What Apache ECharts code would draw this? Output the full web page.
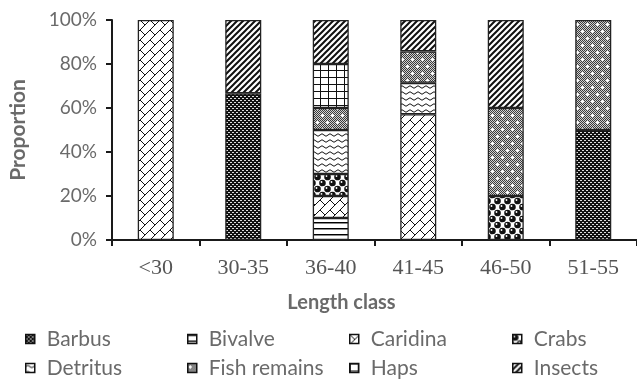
<!DOCTYPE html>
<html><head><meta charset="utf-8">
<script src="https://cdn.jsdelivr.net/npm/echarts@6/dist/echarts.min.js"></script>
<style>html,body{margin:0;padding:0;background:#fff}#c{width:637px;height:380px}</style>
</head><body><div id="c"></div>
<script>
// ---- data (percent of diet per length class) ----
const categories = ['<30', '30-35', '36-40', '41-45', '46-50', '51-55'];
const seriesNames = ['Barbus', 'Bivalve', 'Caridina', 'Crabs', 'Detritus', 'Fish remains', 'Haps', 'Insects'];
const barbus      = [0, 66.67, 0, 0, 0, 50];
const bivalve     = [0, 0, 10, 0, 0, 0];
const caridina    = [100, 0, 10, 57.14, 0, 0];
const crabs       = [0, 0, 10, 0, 20, 0];
const detritus    = [0, 0, 20, 14.29, 0, 0];
const fishRemains = [0, 0, 10, 14.29, 40, 50];
const haps        = [0, 0, 20, 0, 0, 0];
const insects     = [0, 33.33, 20, 14.29, 40, 0];
const yTicks = [0, 20, 40, 60, 80, 100];

const values = [barbus, bivalve, caridina, crabs, detritus, fishRemains, haps, insects];

// ---- fill patterns ----
function tile(w, h, draw) {
  const c = document.createElement('canvas');
  c.width = w; c.height = h;
  const g = c.getContext('2d');
  g.fillStyle = '#fff'; g.fillRect(0, 0, w, h);
  draw(g, w, h);
  return { image: c, repeat: 'repeat' };
}
const patterns = {
  'Barbus': tile(4, 4, g => {
    g.fillStyle = '#111'; g.fillRect(0, 0, 4, 4);
    g.fillStyle = '#ddd'; g.fillRect(0, 0, 2, 1); g.fillRect(2, 2, 2, 1);
  }),
  'Bivalve': tile(8, 6, g => {
    g.fillStyle = '#000'; g.fillRect(0, 0, 8, 1);
    g.fillStyle = '#888'; g.fillRect(0, 1, 8, 1);
  }),
  'Caridina': tile(10, 10, g => {
    g.strokeStyle = '#111'; g.lineWidth = 1;
    g.beginPath();
    for (let k = -1; k <= 1; k++) { g.moveTo(10 * k, 10); g.lineTo(10 * k + 10, 0); }
    g.moveTo(0, 0); g.lineTo(5, 5);
    g.stroke();
  }),
  'Crabs': tile(10, 12, g => {
    g.fillStyle = '#111';
    const pts = [[2.5, 3], [7.5, 9], [-2.5, 9], [12.5, 3], [7.5, -3], [2.5, 15]];
    pts.forEach(p => { g.beginPath(); g.arc(p[0], p[1], 3.3, 0, Math.PI * 2); g.fill(); });
    g.fillStyle = '#fff';
    pts.forEach(p => { g.beginPath(); g.arc(p[0] - 1, p[1] - 1, 0.9, 0, Math.PI * 2); g.fill(); });
  }),
  'Detritus': tile(8, 6, g => {
    g.strokeStyle = '#111'; g.lineWidth = 1;
    g.beginPath(); g.moveTo(0, 3);
    g.quadraticCurveTo(2, 0.5, 4, 3); g.quadraticCurveTo(6, 5.5, 8, 3);
    g.stroke();
  }),
  'Fish remains': tile(10, 14, g => {
    g.fillStyle = '#d0d0d0'; g.fillRect(0, 0, 10, 14);
    g.fillStyle = '#3a3a3a';
    for (let y = 0; y < 14; y++) for (let x = 0; x < 10; x++) if ((x + y) % 2 === 0) g.fillRect(x, y, 1, 1);
    g.fillStyle = '#fff';
    [[2, 3], [7, 10]].forEach(p => { g.fillRect(p[0] - 1, p[1], 3, 1); g.fillRect(p[0], p[1] - 1, 1, 3); });
  }),
  'Haps': tile(8, 7, g => {
    g.fillStyle = '#111'; g.fillRect(0, 0, 8, 1); g.fillRect(0, 0, 1, 7);
  }),
  'Insects': tile(6, 6, g => {
    g.strokeStyle = '#111'; g.lineWidth = 2;
    g.beginPath();
    for (let k = -1; k <= 1; k++) { g.moveTo(6 * k - 1, 7); g.lineTo(6 * k + 7, -1); }
    g.stroke();
  })
};

const grey = '#6a6a6a';
const colX = [25, 187, 349, 512];
const rowTop = [328, 357];

const chart = echarts.init(document.getElementById('c'), null, { renderer: 'canvas' });
chart.setOption({
  animation: false,
  backgroundColor: '#fff',
  grid: { left: 103, right: -5, top: 20, bottom: 140, containLabel: false },
  legend: seriesNames.map((n, i) => ({
    data: [n], left: colX[i % 4], top: rowTop[Math.floor(i / 4)],
    icon: 'rect', itemWidth: 9, itemHeight: 9, selectedMode: false, padding: 0,
    itemStyle: { borderColor: '#111', borderWidth: 1.5 },
    textStyle: { fontFamily: 'Lato', fontSize: 21, color: grey, lineHeight: 22, padding: [0, 0, 0, 7] }
  })),
  xAxis: {
    type: 'category', data: categories,
    axisLine: { lineStyle: { color: '#1a1a1a', width: 2 } },
    axisTick: { show: true, length: 6, lineStyle: { color: '#1a1a1a', width: 2 } },
    axisLabel: { fontFamily: 'Liberation Serif', fontSize: 22, color: '#555', margin: 17, lineHeight: 22 },
    name: 'Length class', nameLocation: 'middle', nameGap: 53,
    nameTextStyle: { fontFamily: 'Lato', fontWeight: 'bold', fontSize: 20, color: grey, lineHeight: 20, padding: [0, 66, 0, 0] }
  },
  yAxis: {
    type: 'value', min: yTicks[0], max: yTicks[yTicks.length - 1], interval: yTicks[1] - yTicks[0],
    splitLine: { show: false },
    axisLine: { show: true, lineStyle: { color: '#1a1a1a', width: 2 } },
    axisTick: { show: true, length: 6, lineStyle: { color: '#1a1a1a', width: 2 } },
    axisLabel: { fontFamily: 'Lato', fontSize: 19, color: grey, margin: 15, formatter: '{value}%' },
    name: 'Proportion', nameLocation: 'middle', nameGap: 83, nameRotate: 90,
    nameTextStyle: { fontFamily: 'Lato', fontWeight: 'bold', fontSize: 21, color: grey }
  },
  series: seriesNames.map((n, i) => ({
    name: n, type: 'bar', stack: 'total', barWidth: 36,
    itemStyle: { color: patterns[n], borderColor: '#222', borderWidth: 1.3 },
    data: values[i].map(v => v === 0 ? '-' : v)
  }))
});
</script></body></html>
